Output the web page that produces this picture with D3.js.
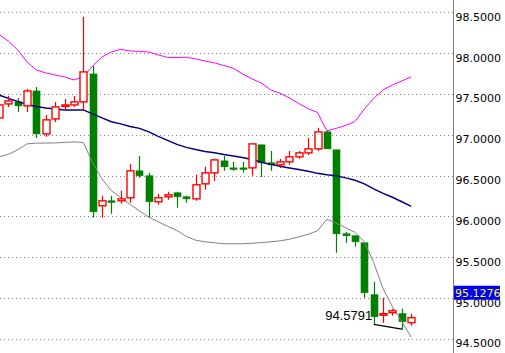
<!DOCTYPE html>
<html>
<head>
<meta charset="utf-8">
<script src="https://cdn.jsdelivr.net/npm/d3@7/dist/d3.min.js"></script>
<style>
  html, body { margin: 0; padding: 0; background: #fff; }
  svg { display: block; }
</style>
</head>
<body>
<svg id="chart" width="505" height="353"></svg>
<script>
// candle values, one entry per bar
var opens = [97.207, 97.378, 97.403, 97.354, 97.537, 97.011, 97.195, 97.354, 97.366, 97.403,
  97.745, 96.131, 96.192, 96.192, 96.229, 96.559, 96.498, 96.180, 96.241, 96.290,
  96.241, 96.216, 96.400, 96.534, 96.681, 96.595, 96.595, 96.595, 96.877, 96.657,
  96.632, 96.669, 96.730, 96.779, 96.828, 97.036, 96.816, 95.788, 95.764, 95.678,
  95.042, 94.797, 94.822, 94.810, 94.700];
var highs = [97.403, 97.476, 97.452, 97.562, 97.586, 97.244, 97.403, 97.439, 97.476, 98.446,
  97.843, 96.253, 96.253, 96.314, 96.644, 96.742, 96.534, 96.277, 96.302, 96.302,
  96.253, 96.510, 96.608, 96.706, 96.742, 96.669, 96.669, 96.889, 96.877, 96.803,
  96.706, 96.803, 96.803, 96.962, 97.085, 97.060, 96.816, 95.813, 95.764, 95.678,
  95.201, 95.005, 94.871, 94.871, 94.810];
var lows = [97.170, 97.342, 97.280, 97.280, 96.962, 96.975, 97.158, 97.305, 97.342, 97.305,
  95.984, 95.984, 96.033, 96.155, 96.167, 96.473, 95.984, 96.143, 96.204, 96.106,
  96.167, 96.192, 96.326, 96.436, 96.559, 96.559, 96.534, 96.498, 96.485, 96.559,
  96.595, 96.632, 96.706, 96.754, 96.803, 96.828, 95.556, 95.678, 95.629, 95.005,
  94.680, 94.700, 94.785, 94.614, 94.663];
var closes = [97.366, 97.415, 97.354, 97.537, 97.011, 97.183, 97.342, 97.366, 97.403, 97.770,
  96.057, 96.192, 96.180, 96.216, 96.559, 96.498, 96.180, 96.229, 96.265, 96.241,
  96.216, 96.388, 96.534, 96.693, 96.608, 96.583, 96.583, 96.889, 96.657, 96.632,
  96.669, 96.730, 96.779, 96.828, 97.036, 96.828, 95.788, 95.764, 95.690, 95.066,
  94.773, 94.810, 94.846, 94.712, 94.761];

// bollinger bands
var upperBand = [98.228, 98.149, 98.039, 97.892, 97.794, 97.758, 97.733, 97.709, 97.672, 97.709,
  97.843, 97.953, 98.014, 98.047, 98.027, 98.020, 98.014, 97.978, 97.947, 97.947,
  97.950, 97.929, 97.904, 97.880, 97.849, 97.815, 97.745, 97.684, 97.635, 97.550,
  97.509, 97.452, 97.384, 97.320, 97.274, 97.048, 97.079, 97.115, 97.162, 97.317,
  97.446, 97.550, 97.611, 97.660, 97.709];
var middleBand = [97.488, 97.446, 97.409, 97.372, 97.348, 97.329, 97.317, 97.305, 97.305, 97.305,
  97.256, 97.207, 97.161, 97.134, 97.103, 97.079, 97.036, 96.981, 96.932, 96.883,
  96.846, 96.819, 96.797, 96.781, 96.758, 96.740, 96.721, 96.699, 96.665, 96.638,
  96.616, 96.595, 96.575, 96.553, 96.528, 96.510, 96.498, 96.473, 96.443, 96.400,
  96.339, 96.283, 96.235, 96.180, 96.124];
var lowerBand = [96.730, 96.761, 96.816, 96.889, 96.898, 96.899, 96.901, 96.907, 96.913, 96.907,
  96.657, 96.461, 96.314, 96.235, 96.149, 96.069, 95.990, 95.935, 95.880, 95.828,
  95.757, 95.709, 95.690, 95.678, 95.666, 95.666, 95.666, 95.672, 95.680, 95.690,
  95.702, 95.721, 95.751, 95.782, 95.825, 95.966, 95.920, 95.862, 95.806, 95.690,
  95.433, 95.115, 94.895, 94.712, 94.522];

var tickValues = [94.5, 95.0, 95.5, 96.0, 96.5, 97.0, 97.5, 98.0, 98.5];
var lastPrice = 95.1276;
var trendLine = [[40, 94.680], [43, 94.622]];
var noteValue = 94.5791;

var svg = d3.select("#chart"),
    width = +svg.attr("width"),
    height = +svg.attr("height"),
    axisX = 453.5;

var candles = opens.map(function(o, i) {
  return { i: i, o: o, h: highs[i], l: lows[i], c: closes[i], up: closes[i] >= o };
});

var x = d3.scaleLinear().domain([0, candles.length - 1]).range([-1.07, 411.2]);
var y = d3.scaleLinear().domain([94.5, 98.5]).range([339, 12.3]);

function cx(i) { return Math.round(x(i)) + 0.5; }

svg.append("defs").append("clipPath").attr("id", "plot")
  .append("rect").attr("x", 0).attr("y", 0).attr("width", axisX).attr("height", height);

// dotted grid
svg.append("g")
  .selectAll("line")
  .data(tickValues)
  .enter().append("line")
    .attr("x1", 0)
    .attr("x2", axisX)
    .attr("y1", function(d) { return Math.round(y(d)) + 0.5; })
    .attr("y2", function(d) { return Math.round(y(d)) + 0.5; })
    .attr("stroke", "#808080")
    .attr("stroke-dasharray", "1,3")
    .attr("shape-rendering", "crispEdges");

var plot = svg.append("g").attr("clip-path", "url(#plot)");

function drawCandles(sel, color, fill) {
  var g = sel.enter().append("g");
  g.append("line")
    .attr("x1", function(d) { return cx(d.i); })
    .attr("x2", function(d) { return cx(d.i); })
    .attr("y1", function(d) { return y(d.h); })
    .attr("y2", function(d) { return y(d.l); })
    .attr("stroke", color)
    .attr("stroke-width", 1.2);
  g.append("rect")
    .attr("x", function(d) { return cx(d.i) - 3.5; })
    .attr("width", 7)
    .attr("y", function(d) { return y(Math.max(d.o, d.c)); })
    .attr("height", function(d) { return Math.max(1.5, y(Math.min(d.o, d.c)) - y(Math.max(d.o, d.c))); })
    .attr("fill", fill)
    .attr("stroke", color)
    .attr("stroke-width", fill == "#ffffff" ? 1.4 : 0.6);
}

// bearish bars sit under the indicator lines
plot.append("g")
  .selectAll("g")
  .data(candles.filter(function(d) { return !d.up; }))
  .call(drawCandles, "#008000", "#008000");

var line = d3.line()
  .x(function(d, i) { return x(i); })
  .y(function(d) { return y(d); });

plot.append("path").datum(upperBand)
  .attr("d", line).attr("fill", "none").attr("stroke", "#ff00ff").attr("stroke-width", 1);
plot.append("path").datum(lowerBand)
  .attr("d", line).attr("fill", "none").attr("stroke", "#808080").attr("stroke-width", 1);
plot.append("path").datum(middleBand)
  .attr("d", line).attr("fill", "none").attr("stroke", "#000080").attr("stroke-width", 1.5);

// bullish bars are hollow, white inside
plot.append("g")
  .selectAll("g")
  .data(candles.filter(function(d) { return d.up; }))
  .call(drawCandles, "#ff0000", "#ffffff");

// little trend line and its note
plot.append("path").datum(trendLine)
  .attr("d", d3.line().x(function(d) { return x(d[0]); }).y(function(d) { return y(d[1]); }))
  .attr("fill", "none")
  .attr("stroke", "#000")
  .attr("stroke-width", 1.2);

svg.append("text")
  .attr("x", x(40) - 1.5)
  .attr("y", y(noteValue) - 12.5)
  .attr("text-anchor", "end")
  .attr("font-family", "Liberation Sans, Arial, sans-serif")
  .attr("font-size", 13)
  .attr("fill", "#000")
  .text(d3.format(".4f")(noteValue));

// price scale on the right
svg.append("line")
  .attr("x1", axisX).attr("x2", axisX)
  .attr("y1", 0).attr("y2", height)
  .attr("stroke", "#808080");

var axis = svg.append("g")
  .attr("transform", "translate(" + axisX + ",0)")
  .call(d3.axisRight(y).tickValues(tickValues).tickSize(0).tickPadding(2)
    .tickFormat(d3.format(".4f")));
axis.select(".domain").remove();
axis.selectAll("text")
  .attr("dy", "0.72em")
  .attr("fill", "#000")
  .attr("font-family", "DejaVu Sans, sans-serif")
  .attr("font-size", 11);

// current price box
var box = svg.append("g").attr("transform", "translate(454," + (y(lastPrice) - 2) + ")");
box.append("rect")
  .attr("width", 46)
  .attr("height", 14)
  .attr("fill", "#0000ff");
box.append("text")
  .attr("x", 1)
  .attr("y", 11)
  .attr("fill", "#ffff00")
  .attr("font-family", "DejaVu Sans, sans-serif")
  .attr("font-size", 11)
  .text(d3.format(".4f")(lastPrice));
</script>
</body>
</html>
